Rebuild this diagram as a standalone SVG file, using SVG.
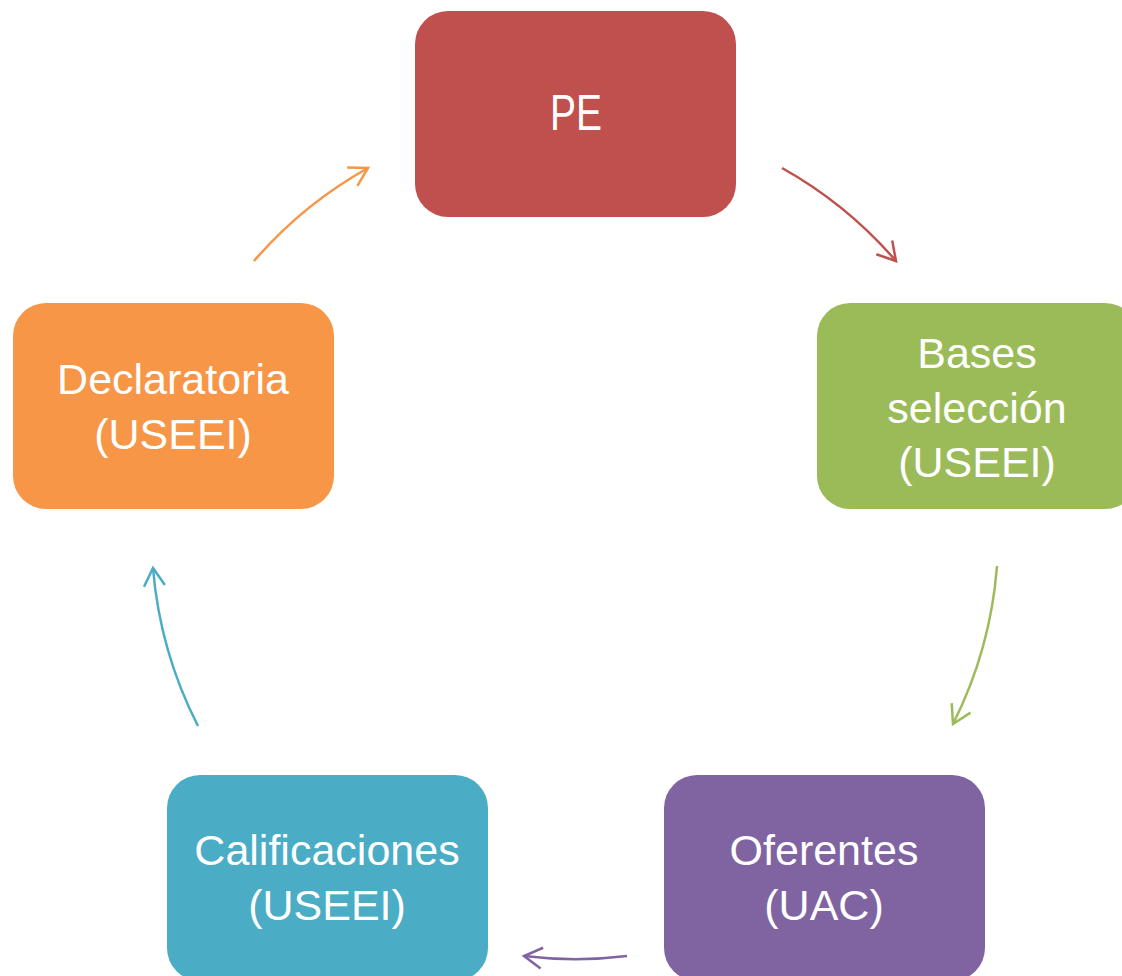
<svg xmlns="http://www.w3.org/2000/svg" width="1122" height="976" viewBox="0 0 1122 976">
<style>
.box{stroke:none}
.lbl{font-family:"Liberation Sans",Arial,sans-serif;font-size:43px;fill:#fff;text-anchor:middle}
.con{fill:none;stroke-width:2.5}
</style>
<defs>
<marker id="mR" markerUnits="userSpaceOnUse" markerWidth="30" markerHeight="30" viewBox="-25 -15 30 30" refX="0" refY="0" orient="auto"><path d="M-18,-10.5 L0,0 L-18,10.5" fill="none" stroke="#C0504D" stroke-width="2.5"/></marker>
<marker id="mG" markerUnits="userSpaceOnUse" markerWidth="30" markerHeight="30" viewBox="-25 -15 30 30" refX="0" refY="0" orient="auto"><path d="M-18,-10.5 L0,0 L-18,10.5" fill="none" stroke="#9BBB59" stroke-width="2.5"/></marker>
<marker id="mP" markerUnits="userSpaceOnUse" markerWidth="30" markerHeight="30" viewBox="-25 -15 30 30" refX="0" refY="0" orient="auto"><path d="M-18,-10.5 L0,0 L-18,10.5" fill="none" stroke="#8064A2" stroke-width="2.5"/></marker>
<marker id="mC" markerUnits="userSpaceOnUse" markerWidth="30" markerHeight="30" viewBox="-25 -15 30 30" refX="0" refY="0" orient="auto"><path d="M-18,-10.5 L0,0 L-18,10.5" fill="none" stroke="#4BACC6" stroke-width="2.5"/></marker>
<marker id="mO" markerUnits="userSpaceOnUse" markerWidth="30" markerHeight="30" viewBox="-25 -15 30 30" refX="0" refY="0" orient="auto"><path d="M-18,-10.5 L0,0 L-18,10.5" fill="none" stroke="#F79646" stroke-width="2.5"/></marker>
</defs>
<rect width="1122" height="976" fill="#fff"/>
<g id="connectors">
<path class="con" stroke="#C0504D" marker-end="url(#mR)" d="M782,168 A423,423 0 0 1 896,261"/>
<path class="con" stroke="#9BBB59" marker-end="url(#mG)" d="M997,566 A423,423 0 0 1 953,724"/>
<path class="con" stroke="#8064A2" marker-end="url(#mP)" d="M627,956 A423,423 0 0 1 524,956"/>
<path class="con" stroke="#4BACC6" marker-end="url(#mC)" d="M198,726 A423,423 0 0 1 153,568"/>
<path class="con" stroke="#F79646" marker-end="url(#mO)" d="M254,261 A423,423 0 0 1 368,168"/>
</g>
<g id="node-pe">
<rect class="box" x="415" y="11" width="321" height="206" rx="33" fill="#C0504D"/>
<text class="lbl" x="576" y="130" style="font-size:50px" textLength="52" lengthAdjust="spacingAndGlyphs">PE</text>
</g>
<g id="node-bases">
<rect class="box" x="817" y="303" width="321" height="206" rx="33" fill="#9BBB59"/>
<text class="lbl" x="977" y="368">Bases</text>
<text class="lbl" x="977" y="423">selección</text>
<text class="lbl" x="977" y="477">(USEEI)</text>
</g>
<g id="node-oferentes">
<rect class="box" x="664" y="775" width="321" height="206" rx="33" fill="#8064A2"/>
<text class="lbl" x="824" y="865">Oferentes</text>
<text class="lbl" x="824" y="920">(UAC)</text>
</g>
<g id="node-calificaciones">
<rect class="box" x="167" y="775" width="321" height="206" rx="33" fill="#4BACC6"/>
<text class="lbl" x="327" y="865">Calificaciones</text>
<text class="lbl" x="327" y="920">(USEEI)</text>
</g>
<g id="node-declaratoria">
<rect class="box" x="13" y="303" width="321" height="206" rx="33" fill="#F79646"/>
<text class="lbl" x="173" y="394">Declaratoria</text>
<text class="lbl" x="173" y="449">(USEEI)</text>
</g>
</svg>
